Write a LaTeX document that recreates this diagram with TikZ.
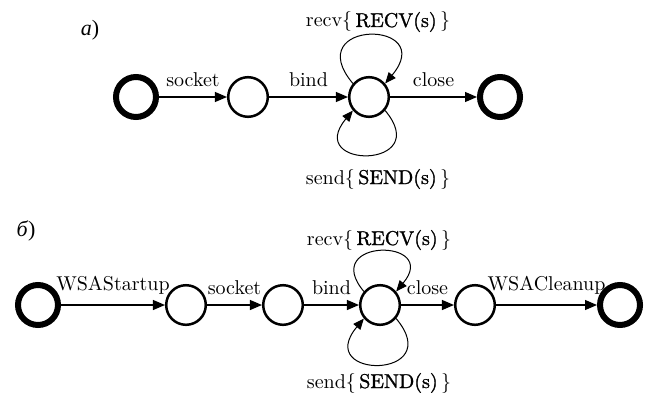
\documentclass[tikz,border=0pt]{standalone}
\usepackage{fontspec}
\newfontfamily\cyrfont{Liberation Serif}
\newfontface\fbold{lmroman10-regular.otf}[FakeBold=1.2]
\usetikzlibrary{arrows.meta}
\begin{document}
\begin{tikzpicture}[x=0.5pt,y=0.5pt,
  st/.style={circle,draw,line width=1.25pt,minimum size=19.8pt,inner sep=0pt},
  term/.style={circle,draw,line width=3pt,minimum size=20pt,inner sep=0pt},
  tr/.style={-{Triangle[length=6pt,width=5pt]},line width=0.6pt},
  lp/.style={-{Triangle[length=5.5pt,width=4.5pt]},line width=0.5pt},
  lab/.style={above=4pt,inner sep=1pt,font=\fontsize{10}{12}\selectfont},
  llab/.style={inner sep=1pt,font=\fontsize{10}{12}\selectfont},
  tag/.style={inner sep=0pt,font=\fontsize{11}{13}\selectfont\cyrfont}]
\useasboundingbox (0,0) rectangle (651,392);
% ---- a)
\node[tag] (ta) at (90,362) {\textit{а})};
\node[term] (a1) at (136,295) {};
\node[st]   (a2) at (248,295) {};
\node[st]   (a3) at (369,295) {};
\node[term] (a4) at (500,295) {};
\draw[tr] (a1) -- node[lab]{socket} (a2);
\draw[tr] (a2) -- node[lab]{bind} (a3);
\draw[tr] (a3) -- node[lab]{close} (a4);
\draw[lp] (a3.140) to[out=130,in=50,distance=42pt] (a3.40);
\draw[lp] (a3.-40) to[out=-50,in=-130,distance=38.5pt] (a3.-140);
\node[llab] (ra) at (378,370) {recv\{\,{\fbold RECV(s)}\,\}};
\node[llab] (sa) at (378,213) {send\{\,{\fbold SEND(s)}\,\}};
% ---- b)
\node[tag] (tb) at (26,161) {\textit{б})};
\node[term] (b1) at (38,87) {};
\node[st]   (b2) at (186,87) {};
\node[st]   (b3) at (283,87) {};
\node[st]   (b4) at (380,87) {};
\node[st]   (b5) at (475,87) {};
\node[term] (b6) at (620,87) {};
\draw[tr] (b1) -- node[lab]{WSAStartup} (b2);
\draw[tr] (b2) -- node[lab]{socket} (b3);
\draw[tr] (b3) -- node[lab]{bind} (b4);
\draw[tr] (b4) -- node[lab]{close} (b5);
\draw[tr] (b5) -- node[lab]{WSACleanup} (b6);
\draw[lp] (b4.140) to[out=130,in=50,distance=35pt] (b4.40);
\draw[lp] (b4.-40) to[out=-50,in=-130,distance=40pt] (b4.-140);
\node[llab] (rb) at (379,152) {recv\{\,{\fbold RECV(s)}\,\}};
\node[llab] (sb) at (379,9) {send\{\,{\fbold SEND(s)}\,\}};
\end{tikzpicture}
\end{document}
